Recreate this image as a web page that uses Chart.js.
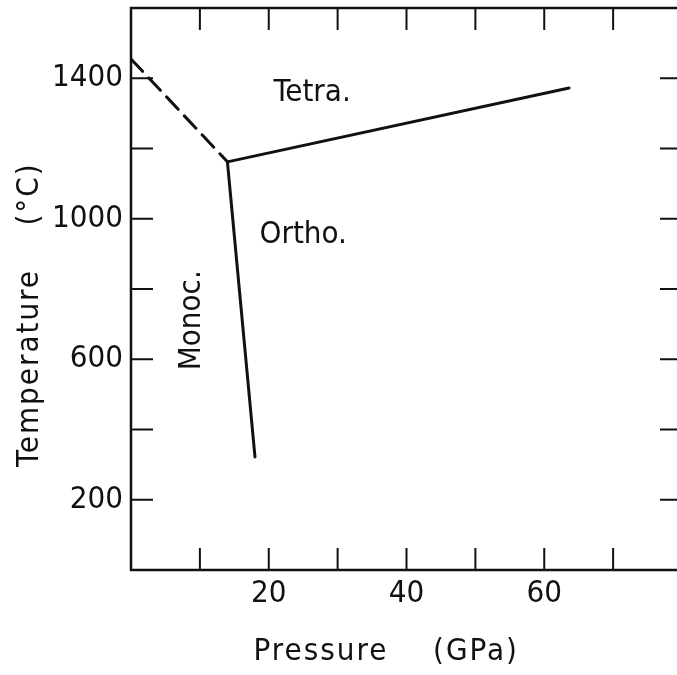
<!DOCTYPE html>
<html>
<head>
<meta charset="utf-8">
<script src="https://cdn.jsdelivr.net/npm/chart.js@4/dist/chart.umd.min.js"></script>
<style>
  html, body { margin: 0; padding: 0; background: #fff; overflow: hidden; }
  #wrap { width: 700px; height: 675px; position: relative; }
</style>
</head>
<body>
<div id="wrap"><canvas id="c"></canvas></div>
<script>
// ---- data ----
const dashedP = [0, 14];          // GPa  (Monoc./Tetra. boundary, dashed)
const dashedT = [1455, 1162];     // °C
const tetraOrthoP = [14, 63.6];   // Tetra./Ortho. boundary
const tetraOrthoT = [1162, 1372];
const monoOrthoP = [14, 18];      // Monoc./Ortho. boundary
const monoOrthoT = [1162, 322];

const xTickValues = [10, 20, 30, 40, 50, 60, 70];
const xTickLabels = [20, 40, 60];
const yTickValues = [200, 400, 600, 800, 1000, 1200, 1400];
const yTickLabels = [200, 600, 1000, 1400];

const regionNames = ['Tetra.', 'Ortho.', 'Monoc.'];
const regionP = [26.3, 25.0, 8.85];
const regionT = [1357, 953, 711];
const regionRot = [0, 0, -90];

const xTitle = ['Pressure', '(GPa)'];
const yTitle = ['Temperature', '(°C)'];

const FONT = '"Liberation Sans Narrow", "DejaVu Sans Condensed", "Roboto Condensed", "Liberation Sans", sans-serif';
const INK = '#111';

const toPts = (xs, ys) => xs.map((x, i) => ({x, y: ys[i]}));

const framePlugin = {
  id: 'frame',
  afterDraw(chart) {
    const ctx = chart.ctx;
    const {left, right, top, bottom} = chart.chartArea;
    const xs = chart.scales.x, ys = chart.scales.y;
    ctx.save();
    ctx.strokeStyle = INK;
    ctx.lineWidth = 2.5;
    ctx.lineCap = 'square';
    ctx.beginPath();
    ctx.moveTo(left, top); ctx.lineTo(right, top); ctx.lineTo(right, bottom);
    ctx.lineTo(left, bottom); ctx.closePath();
    ctx.stroke();
    // inward ticks
    const TL = 22;
    ctx.lineWidth = 2;
    ctx.lineCap = 'butt';
    ctx.beginPath();
    xTickValues.forEach(v => {
      const px = xs.getPixelForValue(v);
      ctx.moveTo(px, bottom); ctx.lineTo(px, bottom - TL);
      ctx.moveTo(px, top); ctx.lineTo(px, top + TL);
    });
    yTickValues.forEach(v => {
      const py = ys.getPixelForValue(v);
      ctx.moveTo(left, py); ctx.lineTo(left + TL, py);
      ctx.moveTo(right, py); ctx.lineTo(right - TL, py);
    });
    ctx.stroke();

    // text
    ctx.fillStyle = INK;
    ctx.font = '31px ' + FONT;
    ctx.textAlign = 'center';
    ctx.textBaseline = 'middle';
    ctx.letterSpacing = '0px';
    regionNames.forEach((t, i) => {
      const px = xs.getPixelForValue(regionP[i]);
      const py = ys.getPixelForValue(regionT[i]);
      ctx.save();
      ctx.translate(px, py);
      ctx.rotate(regionRot[i] * Math.PI / 180);
      ctx.fillText(t, 0, 0);
      ctx.restore();
    });
    // axis titles
    ctx.letterSpacing = '2px';
    ctx.fillText(xTitle[0], left + 190, bottom + 82);
    ctx.fillText(xTitle[1], left + 345, bottom + 82);
    ctx.save();
    ctx.translate(30, 0);
    ctx.rotate(-Math.PI / 2);
    ctx.fillText(yTitle[0], -368, 0);
    ctx.fillText(yTitle[1], -194, 0);
    ctx.restore();
    ctx.restore();
  }
};

const lineDs = (label, xs, ys, dash) => ({
  label,
  data: toPts(xs, ys),
  showLine: true,
  borderColor: INK,
  borderWidth: 3,
  borderDash: dash,
  borderCapStyle: 'round',
  pointRadius: 0,
  fill: false,
  tension: 0
});

new Chart(document.getElementById('c'), {
  type: 'scatter',
  data: {
    datasets: [
      lineDs('Monoc./Tetra.', dashedP, dashedT, [17, 9]),
      lineDs('Tetra./Ortho.', tetraOrthoP, tetraOrthoT, []),
      lineDs('Monoc./Ortho.', monoOrthoP, monoOrthoT, [])
    ]
  },
  options: {
    responsive: true,
    maintainAspectRatio: false,
    animation: false,
    devicePixelRatio: 1,
    layout: { padding: { top: 8, right: 18, bottom: 0, left: 0 } },
    plugins: { legend: { display: false }, tooltip: { enabled: false } },
    scales: {
      x: {
        type: 'linear', min: 0, max: 80,
        grid: { display: false, drawTicks: false },
        border: { display: false },
        afterBuildTicks: s => { s.ticks = xTickLabels.map(v => ({value: v})); },
        afterFit: s => { s.height = 105; s.paddingLeft = 0; s.paddingRight = 0; },
        ticks: { color: INK, padding: 5, maxRotation: 0, callback: v => String(v),
                 font: { family: FONT, size: 31 } }
      },
      y: {
        type: 'linear', min: 0, max: 1600,
        grid: { display: false, drawTicks: false },
        border: { display: false },
        afterBuildTicks: s => { s.ticks = yTickLabels.map(v => ({value: v})); },
        afterFit: s => { s.width = 131; s.paddingTop = 0; s.paddingBottom = 0; },
        ticks: { color: INK, padding: 8, callback: v => String(v),
                 font: { family: FONT, size: 31 } }
      }
    }
  },
  plugins: [framePlugin]
});
</script>
</body>
</html>
